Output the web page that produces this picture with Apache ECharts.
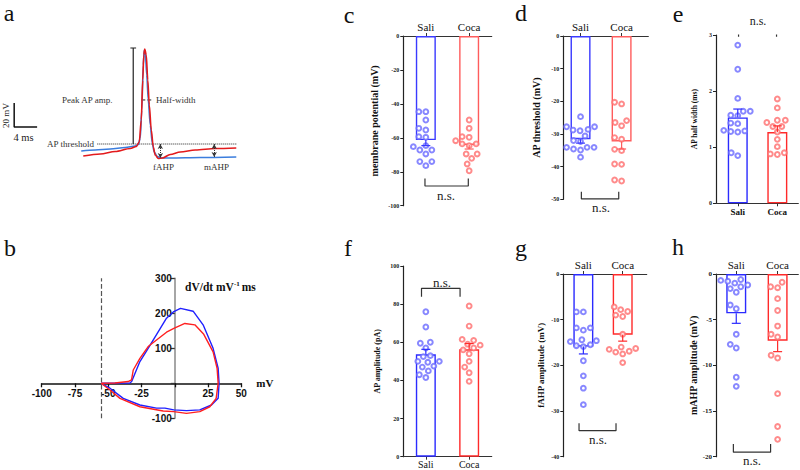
<!DOCTYPE html>
<html><head><meta charset="utf-8">
<script src="https://cdn.jsdelivr.net/npm/echarts@6/dist/echarts.min.js"></script>
<style>html,body{margin:0;padding:0;background:#fff}#c{width:800px;height:470px}</style>
</head><body><div id="c"></div>
<script>
// ================= DATA =================
const groups = ['Sali', 'Coca'];

// panel a: representative action potentials (time ms, membrane potential mV)
const apTimeSali = [0, 2.44, 5.06, 7.68, 9.42, 9.95, 10.30, 10.56, 10.82, 11.0, 11.17, 11.43, 11.69, 12.04, 12.39, 12.74, 13.26, 13.96, 15.53, 20.77, 27.05];
const apVoltSali = [-45.8, -45.0, -44.2, -42.9, -41.7, -40.4, -35, -11.7, 25.8, 38.3, 36.7, 17.5, -3.3, -24.2, -39.2, -46.7, -50.4, -51.7, -51.7, -51.3, -50.8];
const apTimeCoca = [0.35, 3.32, 5.93, 8.55, 9.6, 10.12, 10.47, 10.73, 10.91, 11.08, 11.34, 11.61, 11.87, 12.22, 12.57, 12.91, 13.44, 14.14, 15.53, 17.28, 19.9, 23.39, 27.05];
const apVoltCoca = [-50, -48.3, -46.3, -43.8, -42.1, -38.3, -20, 13.3, 34.2, 39.2, 34.2, 13.3, -7.5, -28.3, -42.5, -49.2, -52.1, -51.7, -48.75, -46.7, -45, -43.75, -43.3];
const apThreshold = -40;      // mV
const apPeak = 40;            // mV
const halfWidthLevel = -3.3;  // mV
const fAHPlevel = -51.7, mAHPlevel = -50.8;

// panel b: phase plots (V in mV, dV/dt)
const phaseVSali  = [-55.4, -45, -33.7, -32.4, -26.2, -20, -6.2, -0.7, 4.3, 13.8, 21.3, 28.8, 32.6, 33.3, 32.6, 27.6, 18.8, 8.8, -0.7, -7.4, -13.7, -26.2, -38.7, -48.7, -55.4];
const phaseDVSali = [0, 0.5, 1, 5, 62, 100, 186, 205, 214, 206, 167, 100, 43, 0, -43, -62, -76, -78, -76, -71, -71, -62, -43, -14, 0];
const phaseVCoca  = [-55.4, -45, -35, -32.5, -31.2, -26.2, -20, -6.2, -0.7, 7.6, 15.1, 21.8, 28.8, 31.8, 32.6, 31.1, 26.3, 18.8, 8.8, -0.7, -8.7, -26.2, -41.2, -48.7, -55.4];
const phaseDVCoca = [0, 1, 5, 10, 38, 71, 105, 146, 157, 171, 167, 140, 90, 43, 0, -43, -67, -81, -86, -81, -79, -67, -43, -19, 0];
const phaseThreshold = -55;

// panel c: membrane potential (mV)
const restSali = [-44.6, -44.6, -49.5, -54.4, -55.4, -59.3, -59.7, -64.6, -65.2, -67.2, -67.2, -69.5, -74.0, -74.0, -76.4];
const restCoca = [-49.5, -54.4, -59.3, -59.7, -61.7, -63.6, -63.6, -64.6, -69.5, -69.5, -72.1, -75.4, -79.4];
const restMeans = [-61.3, -64.2], restSems = [3.3, 2.4];
// panel d: AP threshold (mV)
const thrSali = [-24.7, -27.8, -27.8, -28.6, -28.8, -29.0, -30.6, -32.0, -32.3, -34.1, -34.1, -34.1, -34.6, -34.9, -37.1];
const thrCoca = [-20.3, -20.8, -25.9, -26.5, -27.5, -31.1, -31.6, -34.7, -35.1, -39.2, -39.3, -44.1, -44.4];
const thrMeans = [-31.6, -32.3], thrSems = [1.2, 2.3];
// panel e: AP half width (ms)
const hwSali = [2.82, 2.39, 1.87, 1.64, 1.64, 1.57, 1.56, 1.43, 1.42, 1.30, 1.29, 1.28, 1.27, 0.90, 0.85];
const hwCoca = [1.86, 1.70, 1.48, 1.48, 1.44, 1.37, 1.37, 1.27, 1.14, 1.01, 0.90, 0.88, 0.87];
const hwMeans = [1.53, 1.27], hwSems = [0.15, 0.11];
// panel f: AP amplitude (pA)
const ampSali = [76, 68, 60, 59.5, 57, 53, 52.5, 50, 50, 49.5, 47.5, 47, 45, 43, 41.5];
const ampCoca = [79, 68.5, 61.5, 61, 59, 58.5, 57, 56, 54, 50, 47, 44, 39.5];
const ampMeans = [53.7, 56.3], ampSems = [2.6, 3.0];
// panel g: fAHP amplitude (mV)
const fahpSali = [-8.3, -8.3, -11.8, -11.8, -12.3, -14.4, -14.6, -14.8, -15.5, -15.7, -15.9, -19.0, -22.3, -25.0, -28.6];
const fahpCoca = [-7.2, -7.8, -8.2, -9.0, -9.3, -13.2, -16.0, -16.3, -16.5, -16.9, -17.1, -17.5, -19.4];
const fahpMeans = [-15.9, -13.3], fahpSems = [1.6, 1.4];
// panel h: mAHP amplitude (mV)
const mahpSali = [-0.6, -0.7, -0.8, -1.0, -1.2, -1.4, -1.6, -2.0, -3.4, -3.8, -6.6, -7.7, -8.1, -11.3, -12.3];
const mahpCoca = [-0.9, -1.4, -1.5, -2.7, -4.0, -5.7, -6.6, -6.9, -8.9, -9.2, -13.1, -16.7, -18.1];
const mahpMeans = [-4.3, -7.3], mahpSems = [1.1, 1.2];

// ================= STYLE / LAYOUT =================
const SERIF = '"Liberation Serif","Times New Roman",serif';
const SANS = '"Liberation Sans",Arial,sans-serif';
const barColorsStrong = ['#2b2bff', '#ff2a2a'];
const barColorsLight = ['#3a3aff', '#ff5c5c'];
const dotColors = ['#6a6aff', '#ff6e6e'];

const barPanels = [
  {grid:{left:403.3, top:36, width:88.4, height:169.7}, y:[-100,0,20], xr:[-0.52,1.52], xpos:'top', colors:barColorsLight,
   name:'membrane potential (mV)', nameSize:10, nameGap:24, cat:{size:11, weight:'normal', margin:4}, tick:6,
   vals:[restSali, restCoca], means:restMeans, sems:restSems, br:{x:[-0.02,0.98], y:[-83.9,-88.4]}, ns:[446,195,13]},
  {grid:{left:563.3, top:36, width:85, height:163.3}, y:[-50,0,10], xr:[-0.42,1.65], xpos:'top', colors:barColorsLight,
   name:'AP threshold (mV)', nameSize:10, nameGap:22, cat:{size:11, weight:'normal', margin:4}, tick:6,
   vals:[thrSali, thrCoca], means:thrMeans, sems:thrSems, br:{x:[0.02,0.93], y:[-47.7,-49.9]}, ns:[601,207,13]},
  {grid:{left:716, top:35, width:82.3, height:168.3}, y:[0,3,1], xr:[-0.55,1.53], xpos:'bottom', colors:barColorsStrong,
   name:'AP half width (ms)', nameSize:7.5, nameGap:18, cat:{size:9, weight:'bold', margin:4}, tick:6,
   vals:[hwSali, hwCoca], means:hwMeans, sems:hwSems, br:{x:[0.02,0.98], y:[2.97,3.13]}, ns:[758,21,12]},
  {grid:{left:403.3, top:266, width:88.4, height:190.7}, y:[0,100,20], xr:[-0.52,1.52], xpos:'bottom', colors:barColorsStrong,
   name:'AP amplitude (pA)', nameSize:8, nameGap:22, cat:{size:10, weight:'normal', margin:3}, tick:6,
   vals:[ampSali, ampCoca], means:ampMeans, sems:ampSems, br:{x:[-0.1,0.79], y:[83.9,88.3]}, ns:[442,282,13]},
  {grid:{left:563.3, top:274, width:83.4, height:182.7}, y:[-40,0,10], xr:[-0.51,1.61], xpos:'top', colors:barColorsStrong,
   name:'fAHP amplitude (mV)', nameSize:9, nameGap:18, cat:{size:11, weight:'normal', margin:4}, tick:6,
   vals:[fahpSali, fahpCoca], means:fahpMeans, sems:fahpSems, br:{x:[-0.11,0.83], y:[-32.7,-34.3]}, ns:[598,439,13]},
  {grid:{left:716, top:274, width:82.3, height:182.7}, y:[-20,0,5], xr:[-0.49,1.50], xpos:'top', colors:barColorsStrong,
   name:'mAHP amplitude (mV)', nameSize:10, nameGap:17, cat:{size:11, weight:'normal', margin:4}, tick:7,
   vals:[mahpSali, mahpCoca], means:mahpMeans, sems:mahpSems, br:{x:[-0.07,0.83], y:[-18.6,-19.5]}, ns:[752,460,13]}
];

// deterministic beeswarm spreading (px offsets)
function swarm(vals, ppu, d) {
  const order = vals.map((v, i) => i).sort((a, b) => vals[a] - vals[b]);
  const placed = []; const off = new Array(vals.length).fill(0);
  order.forEach(i => {
    const y = vals[i] * ppu; let best = 0;
    for (let k = 0; k < 400; k++) {
      const dx = (k % 2 === 0 ? 1 : -1) * Math.ceil(k / 2) * 0.5;
      if (placed.every(p => (p[0] - dx) ** 2 + (p[1] - y) ** 2 >= d * d)) { best = dx; break; }
    }
    off[i] = best; placed.push([best, y]);
  });
  return off;
}

const grids = [], xAxes = [], yAxes = [], series = [];
function gridCommon(g) { return Object.assign({containLabel:false, outerBoundsMode:'none'}, g); }

// ---- panel a ----
grids.push(gridCommon({left:1, top:36, width:235, height:132}));
xAxes.push({type:'value', gridIndex:0, min:-14, max:27, show:false});
yAxes.push({type:'value', gridIndex:0, min:-60, max:50, show:false});
function seg(gi, pts, style) {
  return {type:'line', xAxisIndex:gi, yAxisIndex:gi, data:pts, symbol:'none', silent:true,
          lineStyle:Object.assign({color:'#222', width:1.2}, style), z:2};
}
const scaleOrigin = [-11.7, -25.8], scaleMs = 4, scaleMv = 20;
series.push(seg(0, [[scaleOrigin[0], scaleOrigin[1] + scaleMv], scaleOrigin, [scaleOrigin[0] + scaleMs, scaleOrigin[1]]], {width:1.5, color:'#111'}));
series.push(Object.assign(seg(0, [[2.8, apThreshold], [27.2, apThreshold]], {type:'dotted', width:1}), {
  markLine:{silent:true, symbol:['arrow','arrow'], symbolSize:[4,5], label:{show:false},
    lineStyle:{type:'dotted', color:'#333', width:1},
    data:[[{coord:[13.8, apThreshold]}, {coord:[13.8, fAHPlevel]}], [{coord:[23.2, apThreshold]}, {coord:[23.2, mAHPlevel]}]]}
}));
const peakT = 9.07;
series.push(seg(0, [[peakT, apPeak], [peakT, apThreshold]], {}));
series.push(seg(0, [[peakT - 0.5, apPeak], [peakT + 0.5, apPeak]], {}));
series.push(seg(0, [[10.47, halfWidthLevel], [12.57, halfWidthLevel]], {type:'dashed', width:1}));
series.push({type:'line', name:'Sali', xAxisIndex:0, yAxisIndex:0, data:apTimeSali.map((t, i) => [t, apVoltSali[i]]),
  symbol:'none', smooth:0.3, smoothMonotone:'x', lineStyle:{color:'#3b7ddd', width:1.6}, z:3});
series.push({type:'line', name:'Coca', xAxisIndex:0, yAxisIndex:0, data:apTimeCoca.map((t, i) => [t, apVoltCoca[i]]),
  symbol:'none', smooth:0.3, smoothMonotone:'x', lineStyle:{color:'#e31a1c', width:1.6}, z:4});

// ---- panel b ----
const bGrid = {left:41.7, top:278.3, width:199.6, height:140};
const bX = [-100, 50, 25], bY = [-100, 300, 100];
grids.push(gridCommon(bGrid));
// axes cross at zero: offset from grid edges computed from the scales
const bXOffset = -(0 - bY[0]) / (bY[1] - bY[0]) * bGrid.height;
const bYOffset = -(0 - bX[0]) / (bX[1] - bX[0]) * bGrid.width;
xAxes.push({type:'value', gridIndex:1, min:bX[0], max:bX[1], interval:bX[2], position:'bottom', offset:bXOffset,
  name:'mV', nameLocation:'end', nameGap:15,
  nameTextStyle:{fontFamily:SERIF, fontWeight:'bold', fontSize:11, color:'#111'},
  axisLine:{onZero:false, lineStyle:{color:'#111', width:1.5}}, axisTick:{show:true, length:4, lineStyle:{color:'#111', width:1.3}},
  axisLabel:{fontFamily:SANS, fontWeight:'bold', fontSize:10, color:'#111', margin:5, formatter:v => v === 0 ? '' : String(v)},
  splitLine:{show:false}});
yAxes.push({type:'value', gridIndex:1, min:bY[0], max:bY[1], interval:bY[2], position:'left', offset:bYOffset,
  axisLine:{show:true, onZero:false, lineStyle:{color:'#888', width:1.5}}, axisTick:{show:true, length:4, lineStyle:{color:'#333', width:1.3}},
  axisLabel:{fontFamily:SANS, fontWeight:'bold', fontSize:10, color:'#111', margin:3, formatter:v => v === 0 ? '' : String(v)},
  splitLine:{show:false}});
series.push({type:'line', xAxisIndex:1, yAxisIndex:1, data:phaseVSali.map((v, i) => [v, phaseDVSali[i]]), symbol:'none',
  lineStyle:{color:'#2020ff', width:1.4}, z:3,
  markLine:{silent:true, symbol:'none', label:{show:false}, lineStyle:{type:'dashed', color:'#555', width:1.2}, data:[{xAxis:phaseThreshold}]}});
series.push({type:'line', xAxisIndex:1, yAxisIndex:1, data:phaseVCoca.map((v, i) => [v, phaseDVCoca[i]]), symbol:'none',
  lineStyle:{color:'#ff2020', width:1.4}, z:3});

// ---- bar panels c..h ----
barPanels.forEach((p, k) => {
  const gi = k + 2;
  const cols = p.colors;
  grids.push(gridCommon(p.grid));
  xAxes.push({type:'value', gridIndex:gi, min:p.xr[0], max:p.xr[1], position:p.xpos,
    axisLine:{onZero:false, lineStyle:{color:'#333', width:1.2}},
    axisTick:{show:true, length:3, customValues:[0, 1], lineStyle:{color:'#333', width:1}},
    axisLabel:{customValues:[0, 1], formatter:v => groups[Math.round(v)], fontFamily:SERIF, fontSize:p.cat.size,
      fontWeight:p.cat.weight, color:'#111', margin:p.cat.margin},
    splitLine:{show:false}});
  yAxes.push({type:'value', gridIndex:gi, min:p.y[0], max:p.y[1], interval:p.y[2], position:'left',
    name:p.name, nameLocation:'middle', nameGap:p.nameGap, nameRotate:90,
    nameTextStyle:{fontFamily:SERIF, fontWeight:'bold', fontSize:p.nameSize, color:'#111'},
    axisLine:{show:true, onZero:false, lineStyle:{color:'#222', width:1.2}},
    axisTick:{show:true, length:3, lineStyle:{color:'#222', width:1}},
    axisLabel:{fontFamily:SERIF, fontWeight:'bold', fontSize:p.tick, color:'#222', margin:4},
    splitLine:{show:false}});
  // bars
  series.push({type:'bar', xAxisIndex:gi, yAxisIndex:gi, barWidth:20, silent:true, z:2,
    data:p.means.map((m, i) => ({value:[i, m], itemStyle:{color:'rgba(255,255,255,0)', borderColor:cols[i], borderWidth:1.4}}))});
  // dots
  const ppu = p.grid.height / (p.y[1] - p.y[0]);
  p.vals.forEach((vals, i) => {
    const off = swarm(vals, ppu, 7);
    series.push({type:'scatter', xAxisIndex:gi, yAxisIndex:gi, symbol:'emptyCircle', symbolSize:4.8, silent:true, z:4,
      itemStyle:{color:dotColors[i], borderColor:dotColors[i], borderWidth:1},
      data:vals.map((v, j) => ({value:[i, v], symbolOffset:[off[j], 0]}))});
  });
  // error bars (SEM, away from zero)
  series.push({type:'custom', xAxisIndex:gi, yAxisIndex:gi, silent:true, z:5, clip:false,
    data:p.means.map((m, i) => [i, m, p.sems[i]]),
    renderItem:(params, api) => {
      const x = api.value(0), m = api.value(1), s = api.value(2);
      const e = m + Math.sign(m) * s;
      const p0 = api.coord([x, m]), p1 = api.coord([x, e]);
      const col = cols[params.dataIndex];
      return {type:'group', children:[
        {type:'line', shape:{x1:p0[0], y1:p0[1], x2:p1[0], y2:p1[1]}, style:{stroke:col, lineWidth:1.2}},
        {type:'line', shape:{x1:p1[0] - 4.5, y1:p1[1], x2:p1[0] + 4.5, y2:p1[1]}, style:{stroke:col, lineWidth:1.2}}]};
    }});
  // significance bracket
  series.push(seg(gi, [[p.br.x[0], p.br.y[0]], [p.br.x[0], p.br.y[1]], [p.br.x[1], p.br.y[1]], [p.br.x[1], p.br.y[0]]], {color:'#333', width:1.2}));
});

// ---- texts ----
function txt(x, y, text, size, opts) {
  opts = opts || {};
  return {type:'text', x:x, y:y, rotation:opts.rot || 0, silent:true, z:10,
    style:{text:text, font:(opts.weight || 'normal') + ' ' + size + 'px ' + (opts.family || SERIF),
      fill:opts.fill || '#111', align:opts.align || 'center', verticalAlign:'middle', rich:opts.rich}};
}
const graphics = [
  txt(9, 13, 'a', 24), txt(10, 248, 'b', 24), txt(349, 15, 'c', 24), txt(521, 13, 'd', 24),
  txt(678, 14, 'e', 24), txt(348, 248, 'f', 24), txt(521, 248, 'g', 24), txt(678, 247, 'h', 24),
  txt(62, 100, 'Peak AP amp.', 9, {align:'left', fill:'#333'}),
  txt(156, 100, 'Half-width', 9, {align:'left', fill:'#333'}),
  txt(94, 144, 'AP threshold', 9, {align:'right', fill:'#333'}),
  txt(163.5, 167, 'fAHP', 9, {fill:'#333'}),
  txt(216.5, 167, 'mAHP', 9, {fill:'#333'}),
  txt(23.5, 137, '4 ms', 10.5, {fill:'#222'}),
  txt(5.5, 115.5, '20 mV', 9, {rot:Math.PI / 2, fill:'#222'}),
  txt(185, 287, '{a|dV/dt mV}{s|-1}{a|ms}', 11.5, {align:'left', weight:'bold',
    rich:{a:{font:'bold 11.5px ' + SERIF, fill:'#111'}, s:{font:'bold 7px ' + SERIF, fill:'#111', verticalAlign:'top', padding:[0, 2, 6, 0]}}})
];
barPanels.forEach(p => graphics.push(txt(p.ns[0], p.ns[1], 'n.s.', p.ns[2], {fill:'#222'})));

const chart = echarts.init(document.getElementById('c'), null, {renderer:'svg', width:800, height:470});
chart.setOption({animation:false, backgroundColor:'#fff', grid:grids, xAxis:xAxes, yAxis:yAxes, series:series, graphic:graphics});
</script></body></html>
